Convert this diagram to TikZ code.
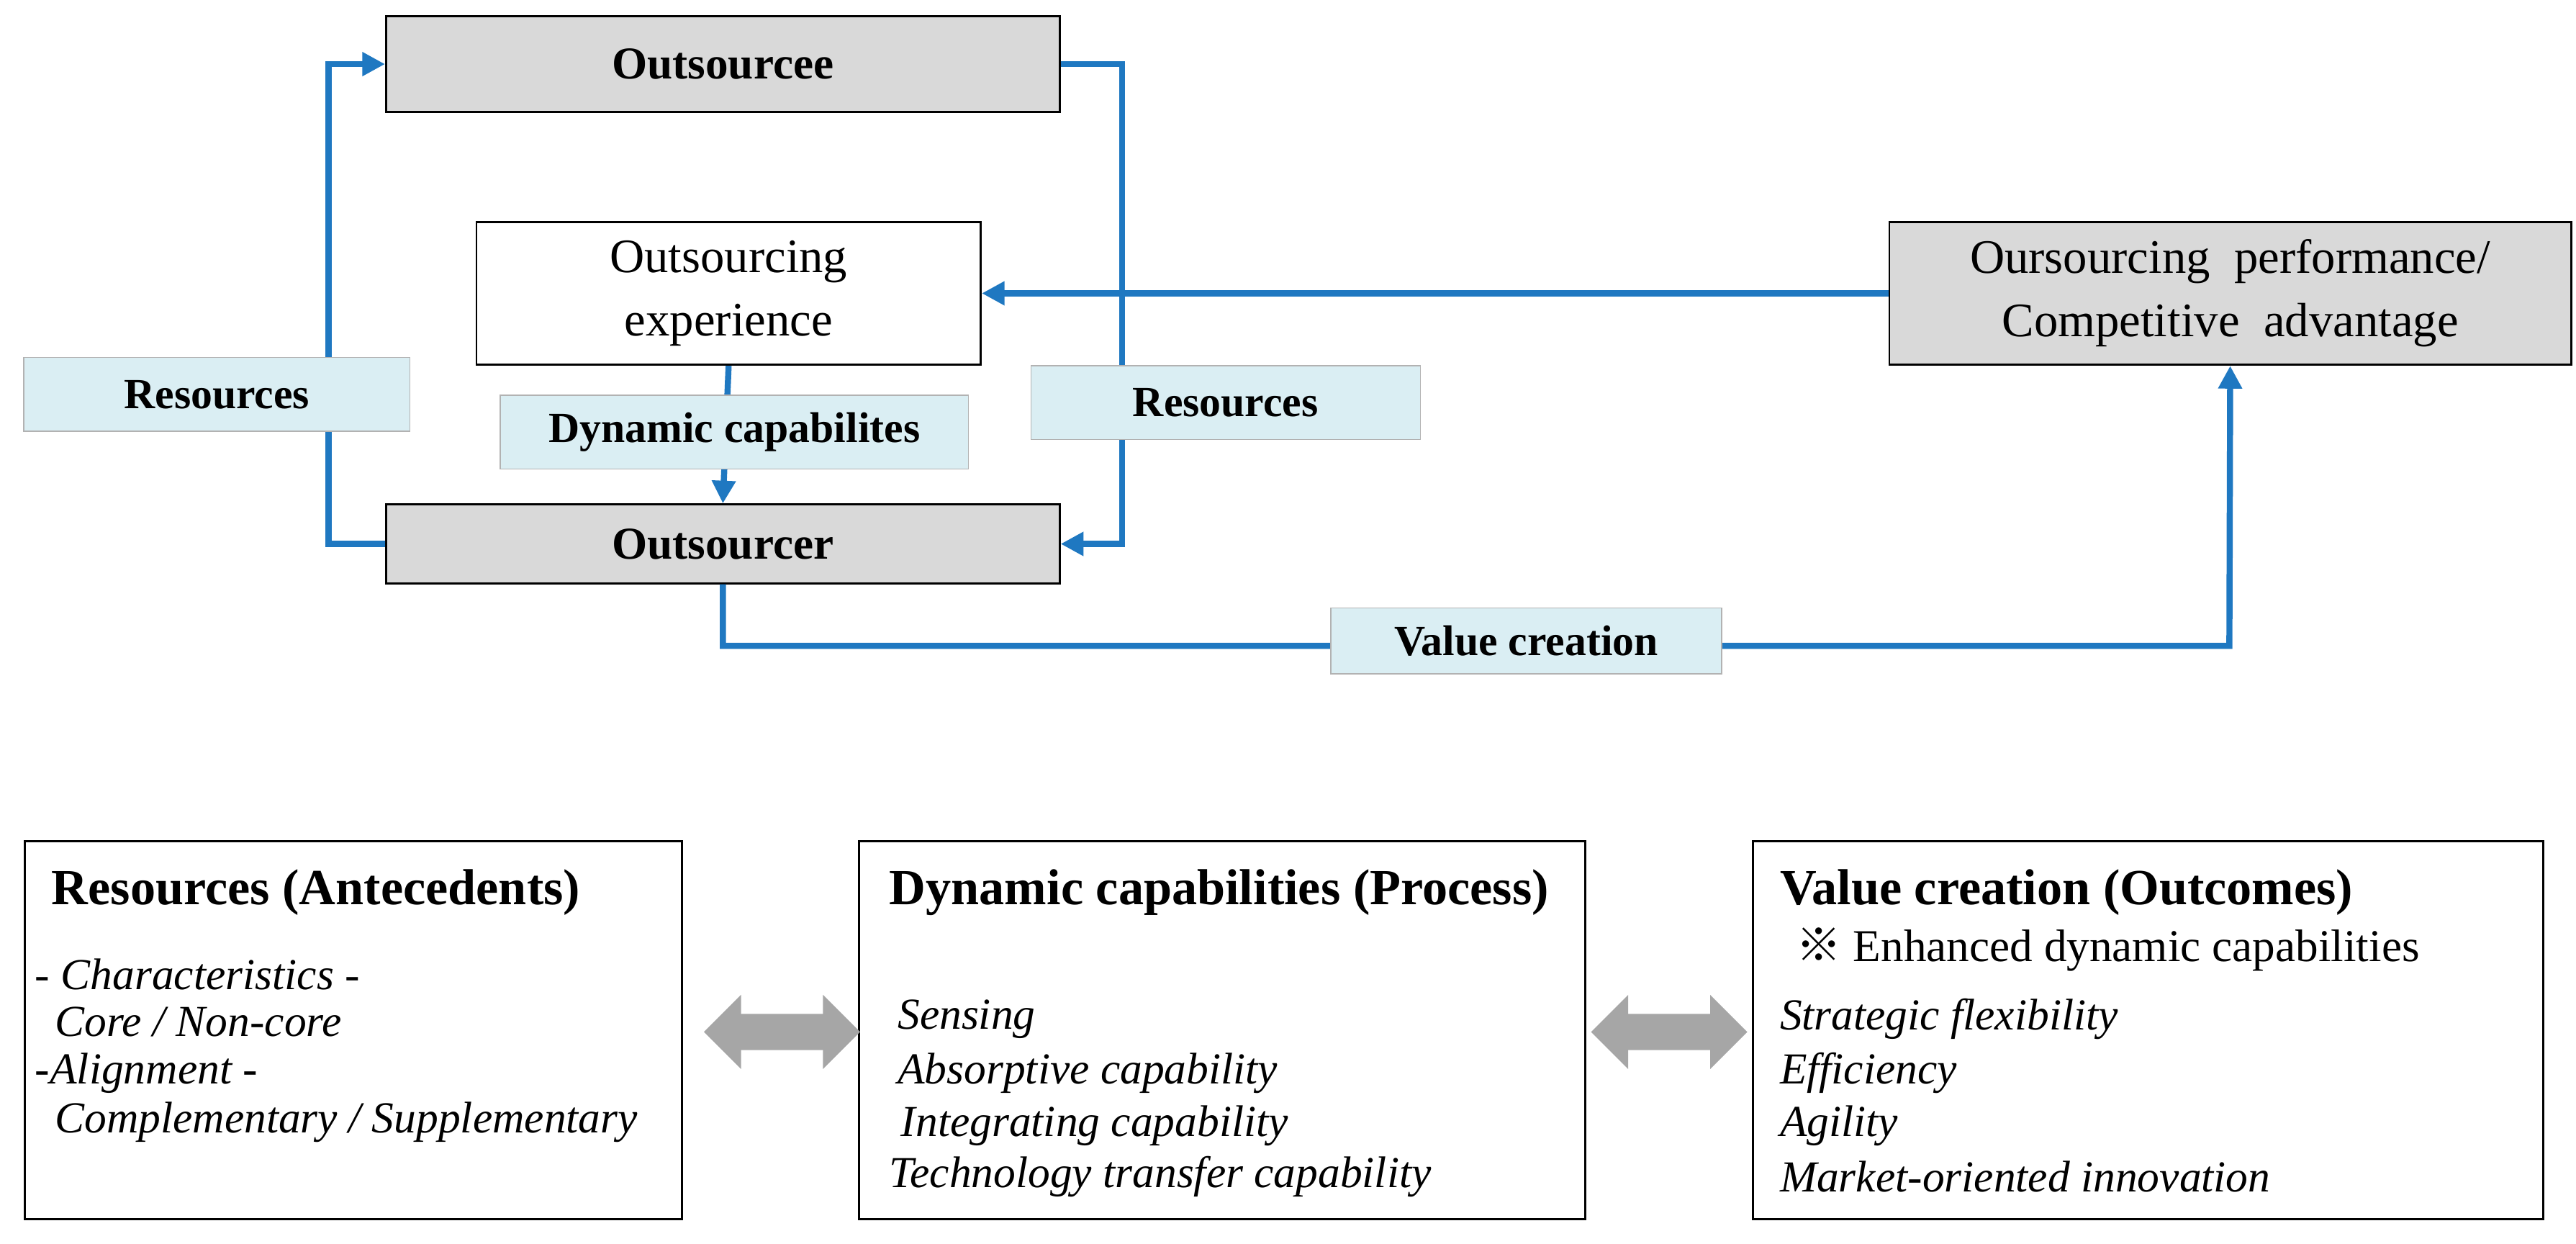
\documentclass[tikz,border=0pt]{standalone}
\usepackage{fontspec}
\setmainfont{Liberation Serif}
\newfontfamily\cjk{Noto Sans CJK SC}
\usetikzlibrary{shapes.arrows,arrows.meta}
\definecolor{flowblue}{HTML}{1F78C1}
\definecolor{boxgray}{HTML}{D9D9D9}
\definecolor{labelblue}{HTML}{DAEEF3}
\begin{document}
\begin{tikzpicture}[x=0.2283mm, y=-0.2283mm,
  actor/.style={rectangle, draw, thick, fill=boxgray, font=\fontsize{18}{20}\selectfont\bfseries},
  plain/.style={rectangle, draw, thick, fill=white, align=center, font=\fontsize{19}{25}\selectfont},
  tag/.style={rectangle, draw=gray!60, fill=labelblue, font=\fontsize{17}{19}\selectfont\bfseries},
  flow/.style={draw=flowblue, line width=2.4pt, -{Triangle[length=9pt,width=9pt]}},
  panel/.style={rectangle, draw, thick},
  line/.style={anchor=west, font=\fontsize{17.5}{20}\selectfont\itshape},
  head/.style={anchor=west, font=\fontsize{20}{22}\selectfont\bfseries},
  swap/.style={double arrow, fill=black!35, minimum height=21.7mm, minimum width=10.3mm, double arrow head extend=2.6mm, inner sep=2.4mm}]
\useasboundingbox (0,0) rectangle (1568,757);

% Upper flow
\node[actor, minimum width=410*0.2283mm, minimum height=58*0.2283mm] (outsourcee) at (440,39) {Outsourcee};
\node[plain, minimum width=307*0.2283mm, minimum height=87*0.2283mm] (experience) at (443.5,178.5) {Outsourcing\\experience};
\node[actor, minimum width=410*0.2283mm, minimum height=48*0.2283mm] (outsourcer) at (440,331) {Outsourcer};
\node[plain, fill=boxgray, minimum width=415*0.2283mm, minimum height=87*0.2283mm] (performance) at (1357.5,178.5) {Oursourcing~ performance/\\Competitive~ advantage};

\coordinate (lefttop) at (200,39);
\coordinate (leftbot) at (200,331);
\coordinate (righttop) at (683,39);
\coordinate (rightbot) at (683,331);
\coordinate (valueleft) at (440,393);
\coordinate (valueright) at (1357,393);

\draw[flow] (outsourcer.west) -- (leftbot) -- (lefttop) -- (outsourcee.west);
\draw[flow] (outsourcee.east) -- (righttop) -- (rightbot) -- (outsourcer.east);
\draw[flow] (performance.west) -- (experience.east);
\draw[flow] (experience.south) -- (outsourcer.north);
\draw[flow] (outsourcer.south) -- (valueleft) -- (valueright) -- (performance.south);

\node[tag, minimum width=235*0.2283mm, minimum height=45*0.2283mm] (resleft) at (132,240) {Resources};
\node[tag, minimum width=285*0.2283mm, minimum height=45*0.2283mm] (dyncap) at (447,263) {Dynamic capabilites};
\node[tag, minimum width=237*0.2283mm, minimum height=45*0.2283mm] (resright) at (746,245) {Resources};
\node[tag, minimum width=238*0.2283mm, minimum height=40*0.2283mm] (valuetag) at (929,390) {Value creation};

% Lower panels
\node[panel, minimum width=400*0.2283mm, minimum height=230*0.2283mm] (antecedents) at (215,627) {};
\node[panel, minimum width=442*0.2283mm, minimum height=230*0.2283mm] (process) at (744,627) {};
\node[panel, minimum width=481*0.2283mm, minimum height=230*0.2283mm] (outcomes) at (1307.5,627) {};

\node[swap] (swapA) at (476,628) {};
\node[swap] (swapB) at (1016,628) {};

\node[head] (anteHead) at (26,543) {Resources (Antecedents)};
\node[line] (anteA) at (16,593) {- Characteristics -};
\node[line] (anteB) at (28,622) {Core / Non-core};
\node[line] (anteC) at (16,653) {-Alignment -};
\node[line] (anteD) at (28,683) {Complementary / Supplementary};

\node[head] (procHead) at (536,543) {Dynamic capabilities (Process)};
\node[line] (procA) at (541,620) {Sensing};
\node[line] (procB) at (541,653) {Absorptive capability};
\node[line] (procC) at (543,685) {Integrating capability};
\node[line] (procD) at (536,716) {Technology transfer capability};

\node[head] (outHead) at (1078,543) {Value creation (Outcomes)};
\node[anchor=west, font=\fontsize{18}{20}\selectfont] (outNote) at (1088,578) {{\cjk ※} Enhanced dynamic capabilities};
\node[line] (outA) at (1078,620) {Strategic flexibility};
\node[line] (outB) at (1078,653) {Efficiency};
\node[line] (outC) at (1078,685) {Agility};
\node[line] (outD) at (1078,716) {Market-oriented innovation};
\end{tikzpicture}
\end{document}
